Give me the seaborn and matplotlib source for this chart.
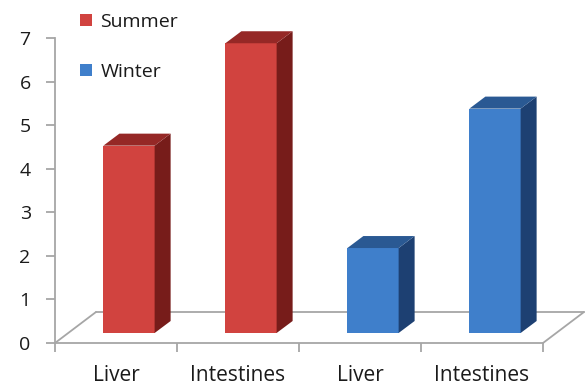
import numpy as np
import pandas as pd
import matplotlib
matplotlib.use("Agg")
import matplotlib.pyplot as plt
import seaborn as sns
from matplotlib.patches import Polygon, Patch
from matplotlib.transforms import ScaledTranslation

# ---- data ----
categories = ["Summer Liver", "Summer Intestines", "Winter Liver", "Winter Intestines"]
tick_labels = ["Liver", "Intestines", "Liver", "Intestines"]
seasons = ["Summer", "Summer", "Winter", "Winter"]
values = [4.3, 6.65, 1.95, 5.15]
season_order = ["Summer", "Winter"]
y_ticks = [0, 1, 2, 3, 4, 5, 6, 7]

# ---- styles ----
front_colors = {"Summer": "#d1433f", "Winter": "#3f7fcb"}
side_colors = {"Summer": "#771c1a", "Winter": "#1d4072"}
top_colors = {"Summer": "#952826", "Winter": "#2a5993"}
axis_gray = "#a6a6a6"
text_color = "#1a1a1a"

sns.set_theme(style="white")
plt.rcParams["font.family"] = ["Open Sans", "DejaVu Sans"]

W, H, DPI = 585, 387, 100
fig = plt.figure(figsize=(W / DPI, H / DPI), dpi=DPI)
ax_left, ax_right, ax_top, ax_bottom = 55, 543, 38, 343
ax = fig.add_axes([ax_left / W, (H - ax_bottom) / H,
                   (ax_right - ax_left) / W, (ax_bottom - ax_top) / H])

df = pd.DataFrame({"cat": categories, "val": values, "season": seasons})
sns.barplot(data=df, x="cat", y="val", hue="season", order=categories,
            hue_order=season_order, palette=front_colors, dodge=False,
            width=0.42, legend=False, saturation=1, ax=ax, errorbar=None)

ax.set_xlim(-0.5, len(categories) - 0.5)
ax.set_ylim(0, 7)

# pixel -> data units
ux = (ax_right - ax_left) / len(categories)
uy = (ax_bottom - ax_top) / 7.0

front_off = ScaledTranslation(13 / DPI, 10 / DPI, fig.dpi_scale_trans)
tr = ax.transData + front_off
ddx, ddy = 16 / ux, 12 / uy  # bar depth in data units

bars = list(ax.patches)
for p in bars:
    x0, w, h = p.get_x(), p.get_width(), p.get_height()
    fc = p.get_facecolor()
    season = min(season_order,
                 key=lambda s: np.sum((np.array(matplotlib.colors.to_rgb(front_colors[s])) - np.array(fc[:3])) ** 2))
    p.set_transform(tr)
    p.set_edgecolor("none")
    p.set_clip_on(False)
    p.set_zorder(3)
    side = Polygon([(x0 + w, 0), (x0 + w + ddx, ddy), (x0 + w + ddx, h + ddy), (x0 + w, h)],
                   closed=True, facecolor=side_colors[season], edgecolor="none",
                   transform=tr, clip_on=False, zorder=3)
    top = Polygon([(x0, h), (x0 + w, h), (x0 + w + ddx, h + ddy), (x0 + ddx, h + ddy)],
                  closed=True, facecolor=top_colors[season], edgecolor="none",
                  transform=tr, clip_on=False, zorder=3)
    ax.add_patch(side)
    ax.add_patch(top)

# floor (3D base)
fdx, fdy = 41 / ux, 31 / uy
xl, xr = ax.get_xlim()
floor_kw = dict(color=axis_gray, lw=1.3, clip_on=False, zorder=1)
ax.plot([xl, xl + fdx], [0, fdy], **floor_kw)
ax.plot([xl + fdx, xr + fdx], [fdy, fdy], **floor_kw)
ax.plot([xr, xr + fdx], [0, fdy], **floor_kw)

# spines
for s in ["top", "right"]:
    ax.spines[s].set_visible(False)
for s in ["left", "bottom"]:
    ax.spines[s].set_color(axis_gray)
    ax.spines[s].set_linewidth(1.3)

# y ticks
ax.set_yticks(y_ticks)
ax.set_yticklabels([str(t) for t in y_ticks])
ax.tick_params(axis="y", which="major", direction="out", length=6.5, width=1.3,
               color=axis_gray, pad=11, labelsize=14, labelcolor=text_color, left=True)

# x ticks: boundaries as major ticks, labels on minor ticks
ax.set_xticks(np.arange(-0.5, len(categories), 1.0))
ax.set_xticklabels([])
ax.set_xticks(np.arange(len(categories)), minor=True)
ax.set_xticklabels(tick_labels, minor=True)
ax.tick_params(axis="x", which="major", direction="out", length=6.5, width=1.3,
               color=axis_gray, bottom=True)
ax.tick_params(axis="x", which="minor", length=0, pad=16, labelsize=15,
               labelcolor=text_color)
ax.set_xlabel("")
ax.set_ylabel("")

# legend
handles = [Patch(facecolor=front_colors[s], edgecolor="none", label=s) for s in season_order]
fig.legend(handles=handles, loc="upper left", bbox_to_anchor=(80 / W, 1 - 13 / H),
           frameon=False, fontsize=14, handlelength=0.6, handleheight=0.6,
           handletextpad=0.45, labelspacing=1.65, borderpad=0, borderaxespad=0,
           labelcolor=text_color)

fig.savefig("out.png", dpi=DPI)
